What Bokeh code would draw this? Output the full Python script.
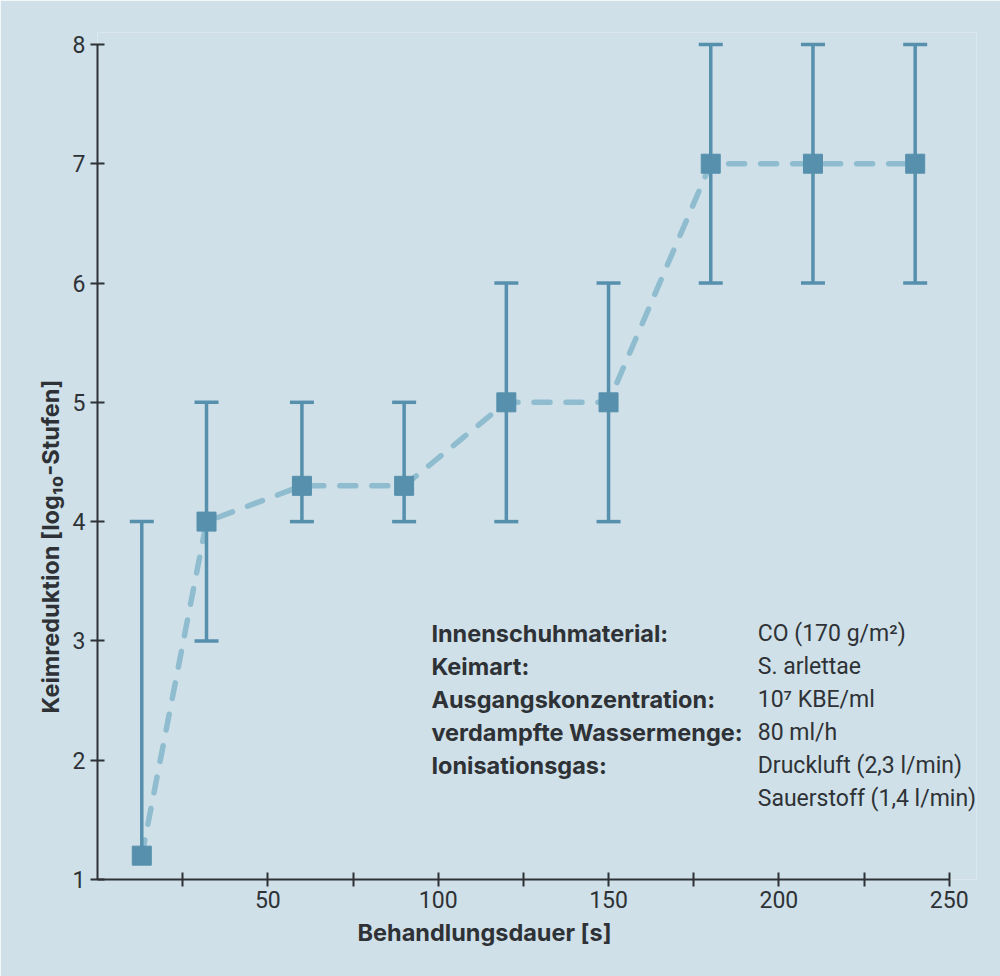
from bokeh.plotting import figure
from bokeh.models import Range1d, FixedTicker, Label, Title, ColumnDataSource
from bokeh.embed import file_html
from bokeh.resources import INLINE

# Treatment duration [s] and germ reduction [log10 steps]
duration_s = [13, 32, 60, 90, 120, 150, 180, 210, 240]
log_reduction = [1.2, 4.0, 4.3, 4.3, 5.0, 5.0, 7.0, 7.0, 7.0]
err_lower = [1.2, 3.0, 4.0, 4.0, 4.0, 4.0, 6.0, 6.0, 6.0]
err_upper = [4.0, 5.0, 5.0, 5.0, 6.0, 6.0, 8.0, 8.0, 8.0]

x_ticks = [25, 50, 75, 100, 125, 150, 175, 200, 225, 250]
x_labeled = [50, 100, 150, 200, 250]
y_ticks = [1, 2, 3, 4, 5, 6, 7, 8]

info_keys = ["Innenschuhmaterial:", "Keimart:", "Ausgangskonzentration:",
             "verdampfte Wassermenge:", "Ionisationsgas:", ""]
info_values = ["CO (170 g/m²)", "S. arlettae", "10⁷ KBE/ml", "80 ml/h",
               "Druckluft (2,3 l/min)", "Sauerstoff (1,4 l/min)"]

BG = "#cfe0e8"
MARK = "#5690ad"
DASH = "#8fbdcf"
INK = "#2e3236"
FONT = "Roboto"
BOLD_FONT = "Inter"
BOLD_SIZE = "23.5px"

p = figure(width=1000, height=976, output_backend="svg", toolbar_location=None,
           x_range=Range1d(0, 258), y_range=Range1d(1, 8.1),
           min_border_left=97, min_border_right=24, min_border_top=32,
           min_border_bottom=97)
p.background_fill_color = BG
p.border_fill_color = BG
p.outline_line_color = None
p.xgrid.visible = False
p.ygrid.visible = False

for ax in (p.xaxis[0], p.yaxis[0]):
    ax.axis_line_color = INK
    ax.axis_line_width = 2
    ax.major_tick_line_color = INK
    ax.major_tick_line_width = 2
    ax.major_tick_in = 7
    ax.major_tick_out = 7
    ax.minor_tick_line_color = None
    ax.major_label_text_font = FONT
    ax.major_label_text_font_size = "23px"
    ax.major_label_text_color = INK

p.xaxis.bounds = (0, 250)
p.xaxis.ticker = FixedTicker(ticks=x_ticks)
p.xaxis.major_label_overrides = {t: (str(t) if t in x_labeled else "") for t in x_ticks}
p.xaxis.major_label_standoff = 4
p.yaxis.bounds = (1, 8)
p.yaxis.ticker = FixedTicker(ticks=y_ticks)
p.yaxis.major_label_standoff = 5

src = ColumnDataSource(dict(x=duration_s, y=log_reduction, lo=err_lower, hi=err_upper))

# connecting trend line
p.line("x", "y", source=src, line_color=DASH, line_width=5.5,
       line_dash="16 16", line_cap="round")

# error bars
p.segment(x0="x", y0="lo", x1="x", y1="hi", source=src,
          line_color=MARK, line_width=3.5)
p.scatter("x", "hi", source=src, marker="dash", size=24,
          line_color=MARK, line_width=3.5)
low_idx = [i for i in range(len(duration_s)) if err_lower[i] < log_reduction[i]]
p.scatter([duration_s[i] for i in low_idx], [err_lower[i] for i in low_idx],
          marker="dash", size=24, line_color=MARK, line_width=3.5)

# mean values
p.scatter("x", "y", source=src, marker="square", size=19,
          fill_color=MARK, line_color=MARK)

# axis titles as side panels, shifted along the frame edge
p.add_layout(Title(text="Behandlungsdauer [s]", align="left", offset=260,
                   text_font=BOLD_FONT, text_font_style="bold",
                   text_font_size=BOLD_SIZE, text_color=INK), "below")
p.add_layout(Title(text="Keimreduktion [log₁₀-Stufen]", align="left", offset=166,
                   text_font=BOLD_FONT, text_font_style="bold",
                   text_font_size=BOLD_SIZE, text_color=INK), "left")

# experiment conditions
row_top = 3.06
row_step = 33 / 119.3
for i, (k, v) in enumerate(zip(info_keys, info_values)):
    yy = row_top - i * row_step
    if k:
        p.add_layout(Label(x=98, y=yy, text=k, text_align="left",
                           text_baseline="middle", text_font=BOLD_FONT,
                           text_font_style="bold", text_font_size=BOLD_SIZE,
                           text_color=INK))
    p.add_layout(Label(x=193.8, y=yy, text=v, text_align="left",
                       text_baseline="middle", text_font=FONT,
                       text_font_size="23px", text_color=INK))

open("out.html", "w").write(file_html(p, INLINE))
